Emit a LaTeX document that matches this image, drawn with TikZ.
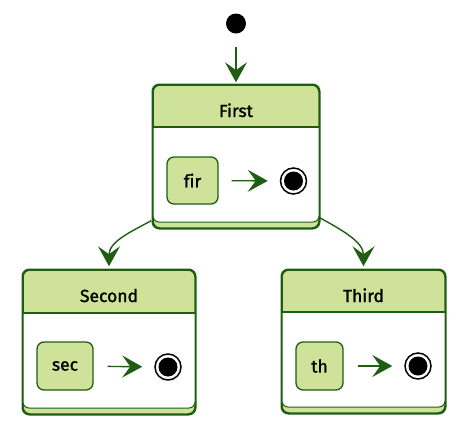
\documentclass[tikz,border=0pt]{standalone}
\usepackage{fontspec}
\setmainfont{Fira Sans}
\newfontfamily\boxfont{Fira Sans}[FakeBold=1.4,Ligatures=NoCommon]
\usetikzlibrary{arrows.meta}
\definecolor{dg}{RGB}{31,94,18}
\definecolor{lg}{RGB}{207,226,153}
\begin{document}
\begin{tikzpicture}[x=1pt,y=-1pt,
  outer/.style={draw=dg,fill=lg,line width=1.5pt,rounded corners=7pt,inner sep=0pt},
  rim/.style={draw=dg,line width=1.5pt,rounded corners=7pt},
  body/.style={draw=dg,line width=1pt,fill=white,rounded corners=6pt},
  inner/.style={draw=dg,fill=lg,line width=1.3pt,rounded corners=7pt,inner sep=0pt,font=\boxfont\fontsize{17.5}{20}\selectfont},
  title/.style={font=\boxfont\fontsize{17.5}{20}\selectfont,anchor=base},
  final/.style={circle,draw=black,line width=1.5pt,fill=white,minimum size=26pt,inner sep=0pt},
  arr/.style={draw=dg,line width=1.4pt,-{Stealth[length=20pt,width=22pt,inset=8pt]}}
]
\useasboundingbox (0,0) rectangle (475,421);

% initial state
\node[circle,fill=black,minimum size=20pt,inner sep=0pt] (init) at (236,23.5) {};

% ---------- First ----------
\node[outer,minimum width=166pt,minimum height=143pt] (first) at (236,156.5) {};
\path[body] (153,127) -- (153,222) -- (319,222) -- (319,127);
\draw[dg,line width=1.5pt] (153,127) -- (319,127);
\path[rim] (first.south west) rectangle (first.north east);
\node[title] (firstT) at (236,117) {First};
\node[inner,minimum width=51pt,minimum height=47pt] (fir) at (192.5,180.5) {fir};
\node[final] (fin1) at (293.5,181) {};
\fill (fin1) circle (9.5pt);
\draw[arr,shorten <=13pt,shorten >=12pt] (fir) -- (fin1);

% ---------- Second ----------
\node[outer,minimum width=172pt,minimum height=144pt] (second) at (109,342) {};
\path[body] (23,313) -- (23,408) -- (195,408) -- (195,313);
\draw[dg,line width=1.5pt] (23,313) -- (195,313);
\path[rim] (second.south west) rectangle (second.north east);
\node[title] (secondT) at (109,302) {Second};
\node[inner,minimum width=56pt,minimum height=48pt] (sec) at (65,366) {sec};
\node[final] (fin2) at (168,367) {};
\fill (fin2) circle (9.5pt);
\draw[arr,shorten <=14pt,shorten >=12pt] (sec) -- (fin2);

% ---------- Third ----------
\node[outer,minimum width=163pt,minimum height=143pt] (third) at (363.5,341.5) {};
\path[body] (282,312) -- (282,407) -- (445,407) -- (445,312);
\draw[dg,line width=1.5pt] (282,312) -- (445,312);
\path[rim] (third.south west) rectangle (third.north east);
\node[title] (thirdT) at (363.5,302) {Third};
\node[inner,minimum width=47pt,minimum height=48pt] (th) at (319.5,366) {th};
\node[final] (fin3) at (418,366) {};
\fill (fin3) circle (9.5pt);
\draw[arr,shorten <=14pt,shorten >=12pt] (th) -- (fin3);

% connectors
\draw[arr,shorten <=13pt,shorten >=2pt] (init) -- (first);
\coordinate (s1) at ([xshift=-1pt,yshift=8pt]first.south west);
\coordinate (s2) at ([yshift=11pt]first.south east);
\draw[arr,shorten >=3pt] (s1) .. controls (130,232) and (109,242) .. (second.north);
\draw[arr,shorten >=3pt] (s2) .. controls (342,230) and (363.5,242) .. (third.north);
\end{tikzpicture}
\end{document}
